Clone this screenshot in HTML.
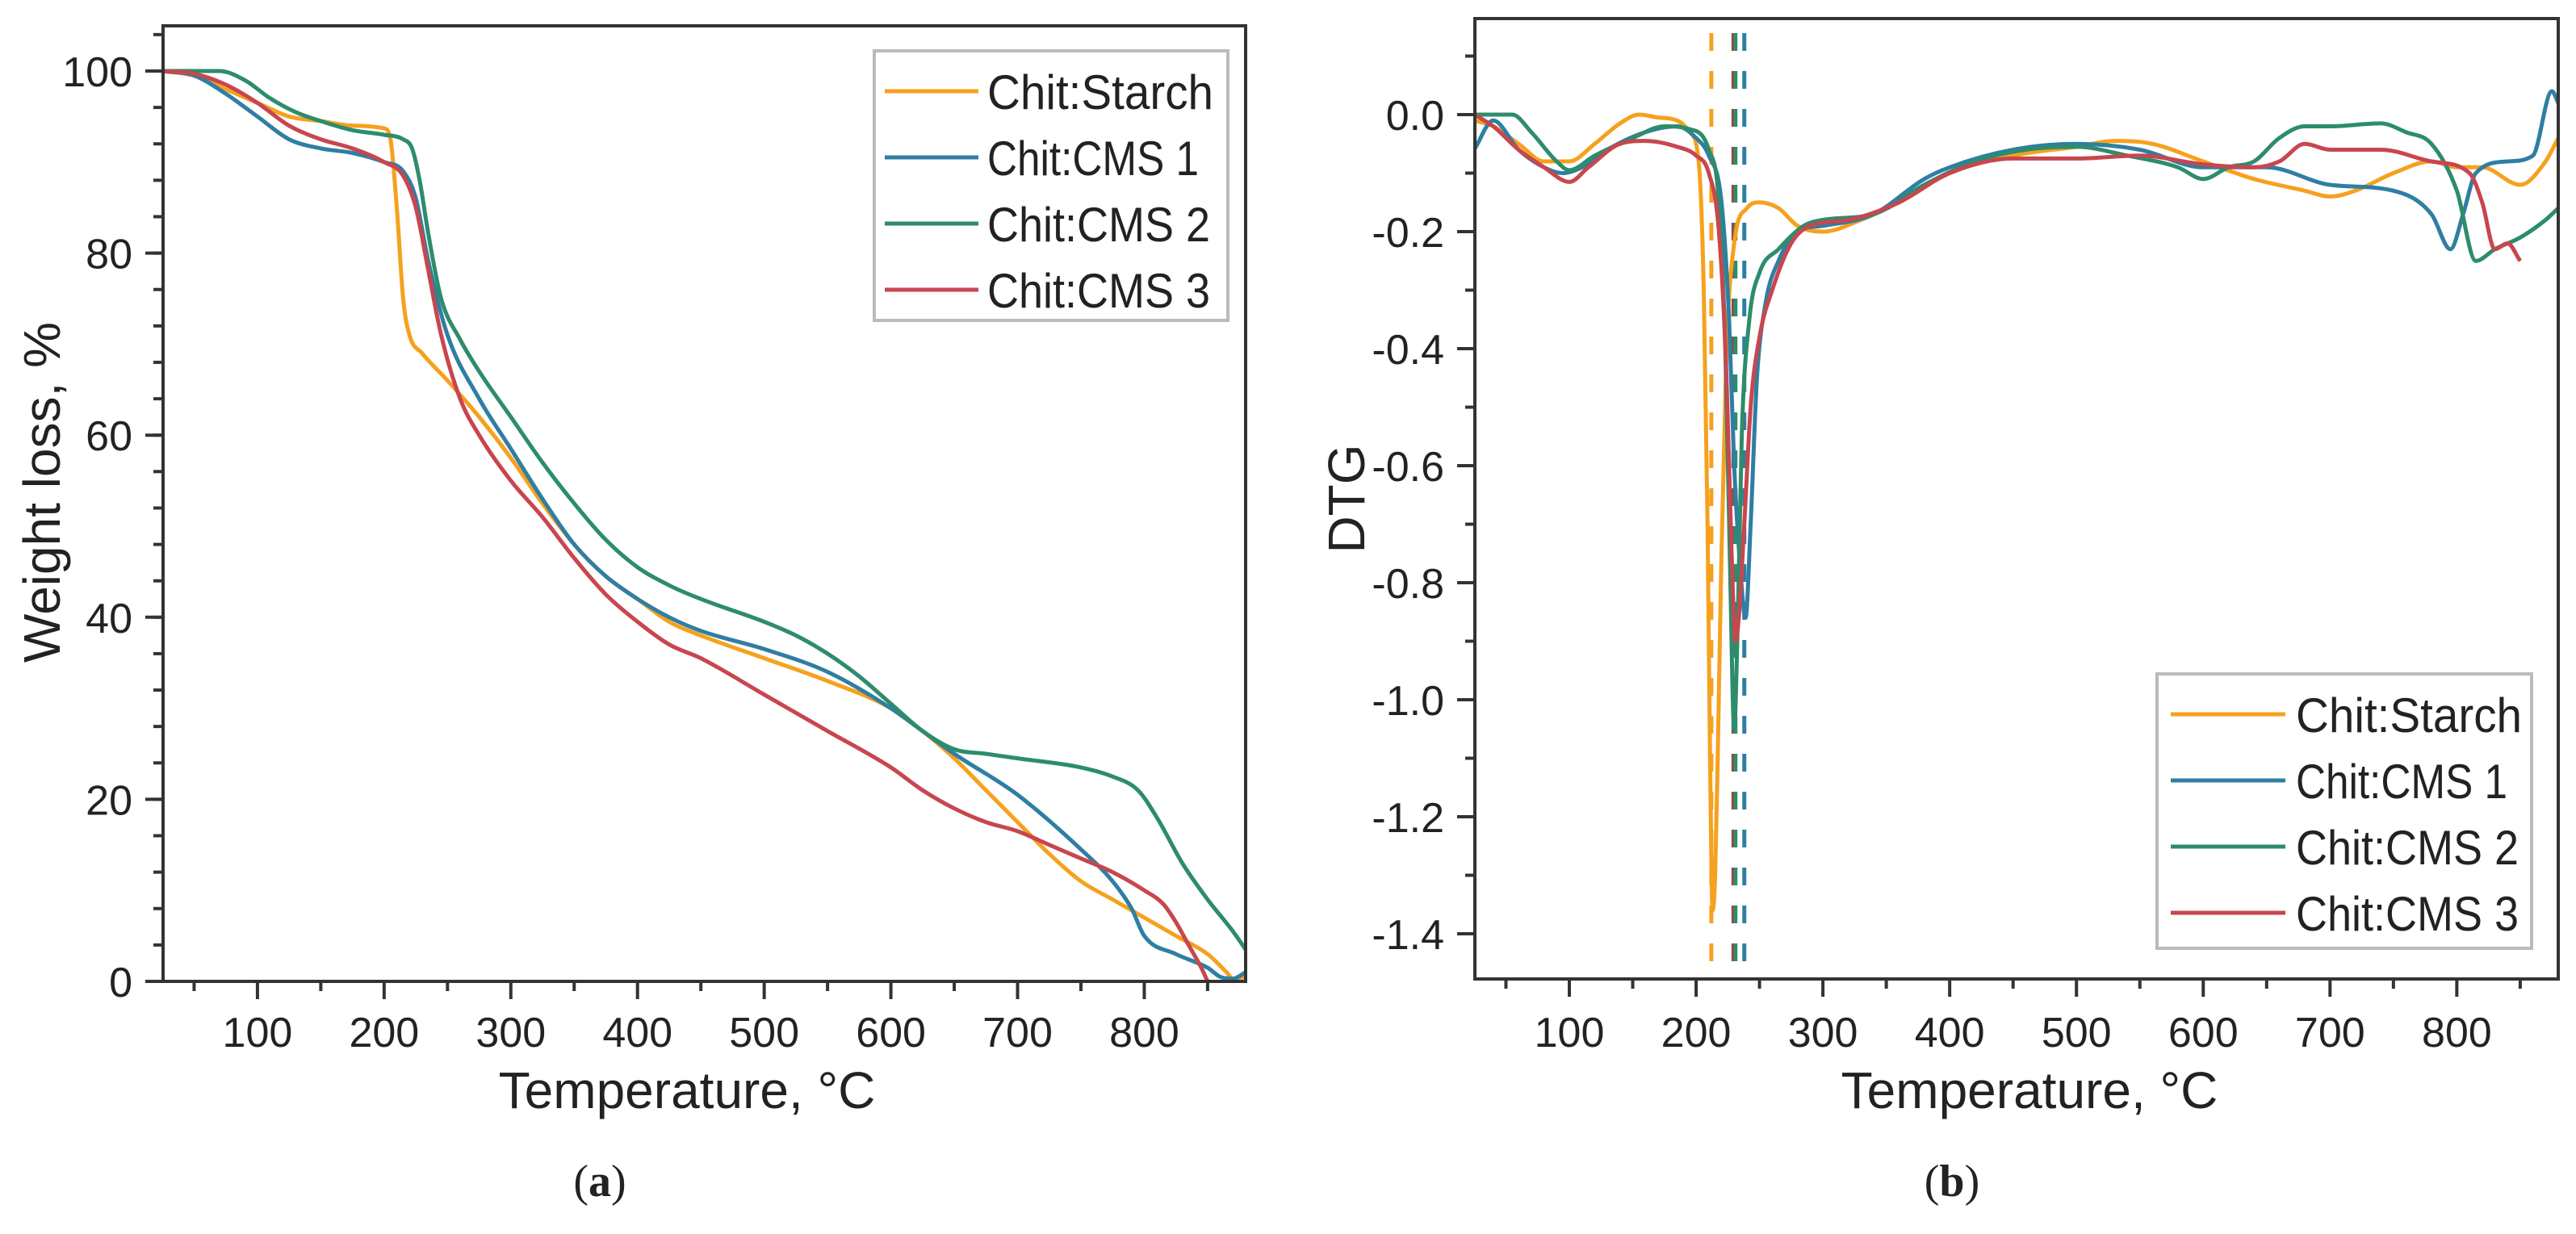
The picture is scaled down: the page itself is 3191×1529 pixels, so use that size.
<!DOCTYPE html>
<html><head><meta charset="utf-8"><style>
html,body{margin:0;padding:0;background:#fff}
svg{display:block}
text{font-family:"Liberation Sans",sans-serif;fill:#222}
</style></head><body>
<svg id="fig" width="3191" height="1529" viewBox="0 0 3191 1529" xmlns="http://www.w3.org/2000/svg">
<g id="pa"></g>
<g id="pb"></g>
<text x="743" y="1482" text-anchor="middle" style="font-family:'Liberation Serif',serif;font-size:56px">(<tspan font-weight="bold">a</tspan>)</text>
<text x="2418" y="1482" text-anchor="middle" style="font-family:'Liberation Serif',serif;font-size:56px">(<tspan font-weight="bold">b</tspan>)</text>
</svg>
<script>
const seriesNames = ["Chit:Starch","Chit:CMS 1","Chit:CMS 2","Chit:CMS 3"];
const seriesColors = ["#f6a11e","#2f7ea3","#2d8c6c","#c8464f"];
const xTicks = [100,200,300,400,500,600,700,800];
const tgaYTicks = [0,20,40,60,80,100];
const dtgYTicks = [0.0,-0.2,-0.4,-0.6,-0.8,-1.0,-1.2,-1.4];
const dtgYLabels = ["0.0","-0.2","-0.4","-0.6","-0.8","-1.0","-1.2","-1.4"];
// TGA data [temperature, weight%]
const tgaStarch = [[25,100],[50,99.5],[75,98],[100,96.5],[125,95],[150,94.5],[175,94],[200,93.7],[205,92.5],[210,85],[215,75],[220,71],[230,69],[250,66],[275,62],[300,57.5],[325,52.5],[350,48],[375,44.5],[400,42],[425,39.5],[450,38],[500,35.5],[550,33],[600,30],[625,27.5],[650,24.5],[675,21],[700,17.5],[725,14],[750,11],[775,9],[800,7],[825,5],[850,3],[865,1],[870,0.3],[880,0.5]];
const tgaCMS1 = [[25,100],[50,99.5],[75,97.5],[100,95],[125,92.5],[150,91.5],[175,91],[200,90],[215,89],[225,86],[235,79],[250,71],[275,64],[300,58.5],[325,53],[350,48],[375,44.5],[400,42],[425,40],[450,38.5],[500,36.5],[550,34],[600,30],[625,27.5],[650,25],[700,20.5],[750,14.5],[775,11],[790,8],[800,5],[825,3],[850,1.5],[860,0.5],[870,0.3],[880,1]];
const tgaCMS2 = [[25,100],[50,100],[70,100],[90,99],[110,97],[130,95.5],[150,94.5],[175,93.5],[200,93],[215,92.5],[222,91.5],[228,88],[235,82],[245,75],[260,70.5],[275,67],[300,62],[325,57],[350,52.5],[375,48.5],[400,45.5],[425,43.5],[450,42],[500,39.5],[525,38],[550,36],[575,33.5],[600,30.5],[625,27.5],[650,25.5],[675,25],[700,24.5],[750,23.5],[775,22.5],[795,21],[810,18],[830,13],[850,9],[870,5.5],[880,3.5]];
const tgaCMS3 = [[25,100],[50,99.7],[75,98.5],[100,96.5],[125,94],[150,92.5],[175,91.5],[200,90],[215,88.5],[225,85],[235,78],[245,71],[260,64],[275,60],[300,55],[325,51],[350,46.5],[375,42.5],[400,39.5],[425,37],[450,35.5],[500,31.5],[550,27.5],[600,23.5],[625,21],[650,19],[675,17.5],[700,16.5],[725,15],[750,13.5],[775,12],[800,10],[815,8.5],[825,6.5],[835,4],[845,1.5],[850,0]];
// DTG data [temperature, dtg]
const dtgStarch = [[25,-0.01],[40,-0.02],[60,-0.05],[80,-0.08],[100,-0.08],[120,-0.05],[140,-0.015],[155,0],[170,-0.005],[185,-0.01],[195,-0.03],[202,-0.08],[206,-0.3],[209,-0.7],[211,-1.1],[213,-1.36],[215,-1.3],[217,-1.1],[220,-0.75],[224,-0.4],[230,-0.22],[240,-0.16],[250,-0.15],[265,-0.16],[280,-0.19],[300,-0.2],[330,-0.18],[360,-0.15],[400,-0.1],[450,-0.07],[500,-0.055],[530,-0.045],[560,-0.05],[600,-0.08],[640,-0.11],[680,-0.13],[700,-0.14],[720,-0.13],[750,-0.1],[780,-0.08],[800,-0.09],[820,-0.09],[850,-0.12],[870,-0.08],[880,-0.04]];
const dtgCMS1 = [[25,-0.06],[40,-0.01],[60,-0.06],[80,-0.09],[95,-0.1],[110,-0.09],[130,-0.06],[160,-0.03],[185,-0.02],[200,-0.04],[210,-0.07],[220,-0.15],[226,-0.35],[230,-0.6],[235,-0.78],[239,-0.86],[243,-0.7],[248,-0.45],[255,-0.32],[265,-0.25],[280,-0.2],[300,-0.19],[340,-0.17],[380,-0.11],[400,-0.09],[450,-0.06],[500,-0.05],[550,-0.06],[600,-0.09],[650,-0.09],[700,-0.12],[750,-0.13],[780,-0.17],[795,-0.23],[805,-0.17],[815,-0.1],[840,-0.08],[860,-0.07],[875,0.04],[880,0.02]];
const dtgCMS2 = [[25,0],[55,0],[70,-0.03],[90,-0.08],[100,-0.095],[120,-0.07],[150,-0.04],[175,-0.02],[195,-0.025],[210,-0.06],[218,-0.15],[223,-0.4],[227,-0.8],[230,-1.05],[233,-0.85],[236,-0.55],[242,-0.35],[250,-0.27],[265,-0.23],[285,-0.19],[300,-0.18],[340,-0.17],[380,-0.12],[420,-0.08],[460,-0.06],[500,-0.055],[540,-0.07],[580,-0.09],[600,-0.11],[620,-0.09],[640,-0.08],[660,-0.04],[680,-0.02],[700,-0.02],[740,-0.015],[760,-0.03],[780,-0.05],[800,-0.13],[815,-0.25],[830,-0.23],[850,-0.21],[870,-0.18],[880,-0.16]];
const dtgCMS3 = [[25,0],[40,-0.02],[60,-0.06],[80,-0.09],[100,-0.115],[115,-0.09],[140,-0.05],[160,-0.045],[185,-0.055],[200,-0.07],[210,-0.1],[218,-0.2],[224,-0.45],[228,-0.75],[231,-0.9],[234,-0.85],[238,-0.7],[243,-0.5],[250,-0.38],[260,-0.3],[275,-0.22],[290,-0.19],[320,-0.18],[360,-0.15],[400,-0.1],[450,-0.075],[500,-0.075],[550,-0.07],[600,-0.085],[640,-0.09],[660,-0.08],[680,-0.05],[700,-0.06],[740,-0.06],[780,-0.08],[810,-0.1],[820,-0.15],[830,-0.23],[840,-0.22],[850,-0.25]];
const peakTemps = [212,229.5,231,238];

const NS="http://www.w3.org/2000/svg";
function mk(tag,attrs,parent,txt){const e=document.createElementNS(NS,tag);for(const k in attrs)e.setAttribute(k,attrs[k]);if(txt!==undefined)e.textContent=txt;parent.appendChild(e);return e;}
function linScale(d0,d1,r0,r1){return v=>r0+(v-d0)*(r1-r0)/(d1-d0);}
// monotone cubic (Fritsch-Carlson) path in pixel space
function pathOf(pts,sx,sy){
  const P=pts.map(p=>[sx(p[0]),sy(p[1])]);const n=P.length;
  const d=[],m=[];
  for(let i=0;i<n-1;i++)d.push((P[i+1][1]-P[i][1])/(P[i+1][0]-P[i][0]));
  m[0]=d[0];m[n-1]=d[n-2];
  for(let i=1;i<n-1;i++){m[i]=(d[i-1]*d[i]<=0)?0:(d[i-1]+d[i])/2;}
  for(let i=0;i<n-1;i++){
    if(d[i]===0){m[i]=0;m[i+1]=0;continue;}
    const a=m[i]/d[i],b=m[i+1]/d[i],s=a*a+b*b;
    if(s>9){const t=3/Math.sqrt(s);m[i]=t*a*d[i];m[i+1]=t*b*d[i];}
  }
  let s="M"+P[0][0].toFixed(1)+","+P[0][1].toFixed(1);
  for(let i=0;i<n-1;i++){
    const h=(P[i+1][0]-P[i][0])/3;
    s+="C"+(P[i][0]+h).toFixed(1)+","+(P[i][1]+m[i]*h).toFixed(1)+" "+(P[i+1][0]-h).toFixed(1)+","+(P[i+1][1]-m[i+1]*h).toFixed(1)+" "+P[i+1][0].toFixed(1)+","+P[i+1][1].toFixed(1);
  }
  return s;
}

function panel(g,cfg){
  const sx=linScale(25.5,880,cfg.L,cfg.R), sy=linScale(cfg.y0,cfg.y1,cfg.yp0,cfg.yp1);
  const clipId=cfg.id+"clip";
  const cp=mk("clipPath",{id:clipId},g);mk("rect",{x:cfg.L,y:cfg.T,width:cfg.R-cfg.L,height:cfg.B-cfg.T},cp);
  for(let t=50;t<=850;t+=50){
    const x=sx(t), major=t%100===0;
    const tk=mk("line",{x1:x,y1:cfg.B,x2:x,y2:cfg.B+(major?22:12),stroke:"#333","stroke-width":4},g);
    
    
  }
  xTicks.forEach(t=>{
    const lb=mk("text",{x:sx(t),y:1297,"text-anchor":"middle","font-size":52},g,String(t));
    
    
  });
  for(let v=cfg.minorStart;v<=cfg.minorEnd+1e-9;v+=cfg.minorStep){
    const y=sy(v); if(y<cfg.T-1||y>cfg.B+1)continue;
    const tk=mk("line",{x1:cfg.L-12,y1:y,x2:cfg.L,y2:y,stroke:"#333","stroke-width":4},g);
    
    
  }
  cfg.yTicks.forEach((v,i)=>{
    const y=sy(v);
    const tk=mk("line",{x1:cfg.L-22,y1:y,x2:cfg.L,y2:y,stroke:"#333","stroke-width":4},g);
    
    
    const lb=mk("text",{x:cfg.L-38,y:y+19,"text-anchor":"end","font-size":52},g,cfg.yLabels[i]);
    
    
  });
  if(cfg.peaks){
    const pc=["#f6a11e","#a04040","#2d8c6c","#2f7ea3"];
    cfg.peaks.forEach((t,i)=>{
      const dl=mk("line",{x1:sx(t),y1:cfg.T+18,x2:sx(t),y2:cfg.B,stroke:pc[i],"stroke-width":5,"stroke-dasharray":"22 25"},g);
      
      
    });
  }
  const cg=mk("g",{"clip-path":"url(#"+clipId+")"},g);
  cfg.series.forEach((s,i)=>{
    const p=mk("path",{d:pathOf(s,sx,sy),fill:"none",stroke:seriesColors[i],"stroke-width":5,"stroke-linejoin":"round"},cg);
    
    
  });
  const fr=mk("rect",{x:cfg.L,y:cfg.T,width:cfg.R-cfg.L,height:cfg.B-cfg.T,fill:"none",stroke:"#333","stroke-width":4},g);
  
  
  const lg=mk("g",{},g);
  
  
  const box=mk("rect",{x:cfg.lg.x,y:cfg.lg.y,width:cfg.lg.w,height:cfg.lg.h,fill:"#fff",stroke:"#bbb","stroke-width":4},lg);
  
  
  seriesNames.forEach((n,i)=>{
    const y=cfg.lg.row0+i*82;
    const ln=mk("line",{x1:cfg.lg.lx0,y1:y,x2:cfg.lg.lx1,y2:y,stroke:seriesColors[i],"stroke-width":5},lg);
    
    
    const w=n==="Chit:Starch"?280:(n==="Chit:CMS 1"?262:276);
    const tx=mk("text",{x:cfg.lg.tx,y:y+22,"font-size":60,textLength:w,lengthAdjust:"spacingAndGlyphs"},lg,n);
    
    
  });
  const xt=mk("text",{x:cfg.xtX,y:1373,"text-anchor":"middle","font-size":64},g,"Temperature, \u00B0C");
  
  
  const yt=mk("text",{x:0,y:0,"text-anchor":"middle","font-size":64,transform:"translate("+cfg.ytX+","+cfg.ytY+") rotate(-90)"},g,cfg.ytText);
  
  
}

panel(document.getElementById("pa"),{id:"a",L:202,R:1543,T:32,B:1216,y0:0,y1:100,yp0:1216,yp1:88,
  yTicks:tgaYTicks,yLabels:tgaYTicks.map(String),minorStart:0,minorEnd:104,minorStep:4,
  series:[tgaStarch,tgaCMS1,tgaCMS2,tgaCMS3],
  lg:{x:1083,y:63,w:438,h:334,row0:113,lx0:1096,lx1:1212,tx:1223},
  xtX:851,ytX:74,ytY:610,ytText:"Weight loss, %"});
panel(document.getElementById("pb"),{id:"b",L:1827,R:3169,T:23,B:1213,y0:0,y1:-1.4,yp0:142,yp1:1157,
  yTicks:dtgYTicks,yLabels:dtgYLabels,minorStart:-1.4,minorEnd:0.15,minorStep:0.1,
  series:[dtgStarch,dtgCMS1,dtgCMS2,dtgCMS3],peaks:peakTemps,
  lg:{x:2672,y:835,w:464,h:340,row0:885,lx0:2689,lx1:2831,tx:2844},
  xtX:2514,ytX:1690,ytY:618,ytText:"DTG"});
</script>
</body></html>
